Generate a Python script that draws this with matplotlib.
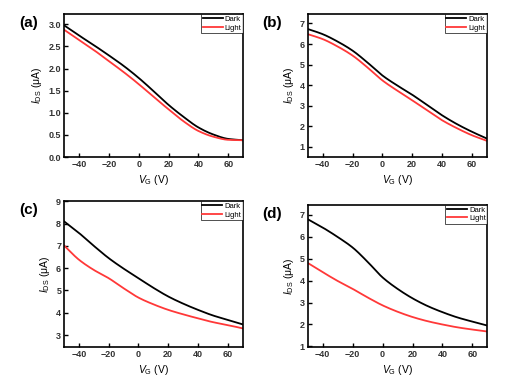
import matplotlib
matplotlib.use("Agg")
import matplotlib.pyplot as plt
import numpy as np

plt.rcParams['font.family'] = ['Liberation Sans', 'DejaVu Sans']
plt.rcParams['mathtext.fontset'] = 'custom'
plt.rcParams['mathtext.it'] = 'Liberation Sans:italic'
plt.rcParams['mathtext.rm'] = 'Liberation Sans'

# gate voltage sample points (V)
vg = [-50, -40, -30, -20, -10, 0, 10, 20, 30, 40, 50, 60, 70]

# panel (a)
dark_a = [2.98, 2.75, 2.53, 2.30, 2.06, 1.79, 1.49, 1.18, 0.91, 0.67, 0.51, 0.41, 0.38]
light_a = [2.88, 2.65, 2.42, 2.17, 1.92, 1.65, 1.36, 1.08, 0.81, 0.59, 0.46, 0.39, 0.38]
# panel (b)
dark_b = [6.73, 6.48, 6.12, 5.68, 5.10, 4.47, 3.98, 3.53, 3.03, 2.53, 2.10, 1.73, 1.40]
light_b = [6.48, 6.24, 5.88, 5.44, 4.86, 4.23, 3.73, 3.26, 2.77, 2.29, 1.90, 1.56, 1.29]
# panel (c)
dark_c = [8.10, 7.58, 7.00, 6.45, 5.98, 5.55, 5.12, 4.73, 4.41, 4.13, 3.88, 3.68, 3.48]
light_c = [7.02, 6.38, 5.92, 5.55, 5.10, 4.68, 4.38, 4.13, 3.93, 3.75, 3.58, 3.45, 3.30]
# panel (d)
dark_d = [6.79, 6.41, 5.98, 5.50, 4.85, 4.14, 3.62, 3.19, 2.84, 2.56, 2.32, 2.13, 1.95]
light_d = [4.80, 4.38, 3.98, 3.62, 3.23, 2.87, 2.58, 2.34, 2.15, 2.00, 1.87, 1.77, 1.68]

panels = [
    ('(a)', dark_a, light_a, (0, 3.23), [0, 0.5, 1.0, 1.5, 2.0, 2.5, 3.0], '%.1f'),
    ('(b)', dark_b, light_b, (0.5, 7.45), [1, 2, 3, 4, 5, 6, 7], '%d'),
    ('(c)', dark_c, light_c, (2.46, 9.0), [3, 4, 5, 6, 7, 8, 9], '%d'),
    ('(d)', dark_d, light_d, (0.97, 7.45), [1, 2, 3, 4, 5, 6, 7], '%d'),
]
positions = [
    [0.125, 0.591, 0.350, 0.372],
    [0.601, 0.591, 0.350, 0.372],
    [0.125, 0.096, 0.349, 0.380],
    [0.601, 0.096, 0.351, 0.371],
]


def smooth(x, y):
    # monotone cubic (PCHIP) through the read-off points
    x = np.asarray(x, float)
    y = np.asarray(y, float)
    h = np.diff(x)
    d = np.diff(y) / h
    m = np.zeros_like(y)
    for k in range(1, len(x) - 1):
        if d[k - 1] * d[k] > 0:
            w1 = 2 * h[k] + h[k - 1]
            w2 = h[k] + 2 * h[k - 1]
            m[k] = (w1 + w2) / (w1 / d[k - 1] + w2 / d[k])
    m[0] = d[0]
    m[-1] = d[-1]
    xs = np.linspace(x[0], x[-1], 400)
    idx = np.clip(np.searchsorted(x, xs) - 1, 0, len(x) - 2)
    t = (xs - x[idx]) / h[idx]
    h00 = 2 * t**3 - 3 * t**2 + 1
    h10 = t**3 - 2 * t**2 + t
    h01 = -2 * t**3 + 3 * t**2
    h11 = t**3 - t**2
    ys = h00 * y[idx] + h10 * h[idx] * m[idx] + h01 * y[idx + 1] + h11 * h[idx] * m[idx + 1]
    return xs, ys


fig = plt.figure(figsize=(5.12, 3.84), dpi=100)

for (tag, dark, light, ylim, yticks, fmt), pos in zip(panels, positions):
    ax = fig.add_axes(pos)
    xs, ys = smooth(vg, dark)
    ax.plot(xs, ys, color='black', linewidth=1.3, label='Dark')
    xs, ys = smooth(vg, light)
    ax.plot(xs, ys, color='#ff3838', linewidth=1.3, label='Light')

    ax.set_xlim(-50, 70)
    ax.set_ylim(*ylim)
    ax.set_xticks([-40, -20, 0, 20, 40, 60])
    ax.set_yticks(yticks)
    ax.set_yticklabels([fmt % v for v in yticks])
    ax.tick_params(direction='in', length=3, width=1, labelsize=6.5, pad=2)
    for lbl in ax.get_xticklabels() + ax.get_yticklabels():
        lbl.set_fontweight('bold')
        lbl.set_color('#333333')
    for sp in ax.spines.values():
        sp.set_linewidth(1.2)

    ax.set_xlabel(r'$\mathit{V}_{\mathrm{G}}$ (V)', fontsize=7.5, labelpad=3)
    ax.set_ylabel(r'$\mathit{I}_{\mathrm{DS}}$ ($\mathrm{\mu}$A)', fontsize=7.5, labelpad=3)

    leg = ax.legend(loc='upper right', fontsize=5.5, frameon=True, fancybox=False,
                    borderpad=0.2, handlelength=2.6, handletextpad=0.3,
                    labelspacing=0.15, borderaxespad=0.0)
    leg.get_frame().set_edgecolor('black')
    leg.get_frame().set_linewidth(0.6)

    fig.text(pos[0] - 0.088, pos[1] + pos[3] - 0.024, tag, fontsize=11,
             fontweight='bold', ha='left', va='center')

fig.savefig('out.png', dpi=100)
